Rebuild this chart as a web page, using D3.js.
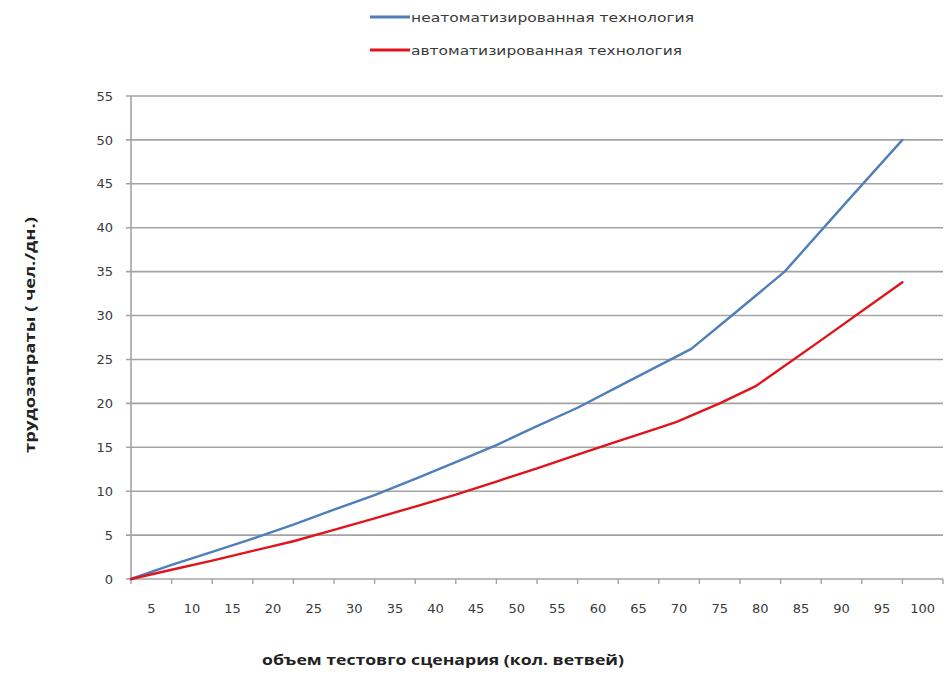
<!DOCTYPE html>
<html>
<head>
<meta charset="utf-8">
<script src="https://cdn.jsdelivr.net/npm/d3@7/dist/d3.min.js"></script>
<style>
  html, body { margin: 0; padding: 0; background: #fff; }
  svg { display: block; }
</style>
</head>
<body>
<svg id="chart" width="945" height="675"></svg>
<script>
// Series names
const seriesNames = ["неатоматизированная технология", "автоматизированная технология"];
const seriesColors = ["#4f7fb8", "#e0141c"];

// Volume of the test scenario (branches) at which each curve is sampled
const manualX = [0, 5, 10, 15, 20, 25, 30, 35, 40, 45, 50, 55, 60, 65, 69, 74, 80.5, 88, 95];
const manualY = [0, 1.6, 3.1, 4.6, 6.2, 7.9, 9.55, 11.4, 13.3, 15.25, 17.4, 19.5, 21.9, 24.3, 26.2, 30, 35, 42.8, 50];

const autoX = [0, 5, 10, 15, 20, 25, 30, 35, 40, 45, 50, 55, 60, 65, 67.2, 72.5, 77, 85, 95];
const autoY = [0, 1.05, 2.1, 3.2, 4.3, 5.6, 6.9, 8.25, 9.6, 11.1, 12.6, 14.15, 15.7, 17.2, 17.9, 20, 22, 27.2, 33.8];

// Axis ticks
const xTickLabels = [5, 10, 15, 20, 25, 30, 35, 40, 45, 50, 55, 60, 65, 70, 75, 80, 85, 90, 95, 100];
const yTicks = [0, 5, 10, 15, 20, 25, 30, 35, 40, 45, 50, 55];

const xTitle = "объем тестовго сценария (кол. ветвей)";
const yTitle = "трудозатраты ( чел./дн.)";

const svg = d3.select("#chart");
const plot = { left: 131, right: 943, top: 96, bottom: 579 };

const x = d3.scaleLinear().domain([0, 100]).range([plot.left, plot.right]);
const y = d3.scaleLinear().domain([0, 55]).range([plot.bottom, plot.top]);

const gridColor = "#a3a3a3";
const labelFont = "'DejaVu Sans', Verdana, sans-serif";

// Horizontal gridlines (the one at 0 doubles as the category axis)
svg.append("g")
  .selectAll("line")
  .data(yTicks)
  .join("line")
  .attr("x1", plot.left - 5)
  .attr("x2", plot.right)
  .attr("y1", d => y(d))
  .attr("y2", d => y(d))
  .attr("stroke", gridColor)
  .attr("stroke-width", 1.6);

// Value axis line
svg.append("line")
  .attr("x1", plot.left).attr("x2", plot.left)
  .attr("y1", y(55)).attr("y2", y(0))
  .attr("stroke", gridColor).attr("stroke-width", 1.6);

// Category tick marks between the labels
const xTickMarks = d3.range(0, 101, 5);
svg.append("g")
  .selectAll("line")
  .data(xTickMarks)
  .join("line")
  .attr("x1", d => x(d)).attr("x2", d => x(d))
  .attr("y1", y(0)).attr("y2", y(0) + 5)
  .attr("stroke", gridColor).attr("stroke-width", 1.4);

// Value axis labels
svg.append("g")
  .selectAll("text")
  .data(yTicks)
  .join("text")
  .attr("x", plot.left - 18)
  .attr("y", d => y(d))
  .attr("dy", "0.36em")
  .attr("text-anchor", "end")
  .attr("font-family", labelFont)
  .attr("font-size", 13)
  .attr("fill", "#3a3a3a")
  .text(d => d);

// Category labels, centred in each 5-branch interval
svg.append("g")
  .selectAll("text")
  .data(xTickLabels)
  .join("text")
  .attr("x", d => x(d - 2.5))
  .attr("y", y(0) + 34)
  .attr("text-anchor", "middle")
  .attr("font-family", labelFont)
  .attr("font-size", 13)
  .attr("fill", "#3a3a3a")
  .text(d => d);

// Curves
const series = [
  { name: seriesNames[0], color: seriesColors[0], pts: manualX.map((v, i) => [v, manualY[i]]) },
  { name: seriesNames[1], color: seriesColors[1], pts: autoX.map((v, i) => [v, autoY[i]]) }
];

const line = d3.line()
  .x(d => x(d[0]))
  .y(d => y(d[1]))
  .curve(d3.curveLinear);

svg.append("g")
  .selectAll("path")
  .data(series)
  .join("path")
  .attr("d", d => line(d.pts))
  .attr("fill", "none")
  .attr("stroke", d => d.color)
  .attr("stroke-width", 2.4)
  .attr("stroke-linejoin", "round")
  .attr("stroke-linecap", "round");

// Legend
const legend = svg.append("g");
series.forEach((s, i) => {
  const ly = 17 + i * 33;
  legend.append("line")
    .attr("x1", 370).attr("x2", 410)
    .attr("y1", ly).attr("y2", ly)
    .attr("stroke", s.color).attr("stroke-width", 3.2);
  legend.append("text")
    .attr("x", 411)
    .attr("y", ly)
    .attr("dy", "0.36em")
    .attr("font-family", labelFont)
    .attr("font-size", 12.5)
    .attr("fill", "#3a3a3a")
    .attr("textLength", i === 0 ? 283 : 271)
    .attr("lengthAdjust", "spacingAndGlyphs")
    .text(s.name);
});

// Axis titles
svg.append("text")
  .attr("x", 443)
  .attr("y", 660)
  .attr("dy", "0.35em")
  .attr("text-anchor", "middle")
  .attr("font-family", "'Open Sans', 'Liberation Sans', sans-serif")
  .attr("font-weight", "bold")
  .attr("font-size", 15)
  .attr("fill", "#222")
  .attr("textLength", 362)
  .attr("lengthAdjust", "spacingAndGlyphs")
  .text(xTitle);

svg.append("text")
  .attr("transform", "translate(30,335) rotate(-90)")
  .attr("text-anchor", "middle")
  .attr("dy", "0.35em")
  .attr("font-family", "'Open Sans', 'Liberation Sans', sans-serif")
  .attr("font-weight", "bold")
  .attr("font-size", 15)
  .attr("fill", "#222")
  .attr("textLength", 236)
  .attr("lengthAdjust", "spacingAndGlyphs")
  .text(yTitle);
</script>
</body>
</html>
